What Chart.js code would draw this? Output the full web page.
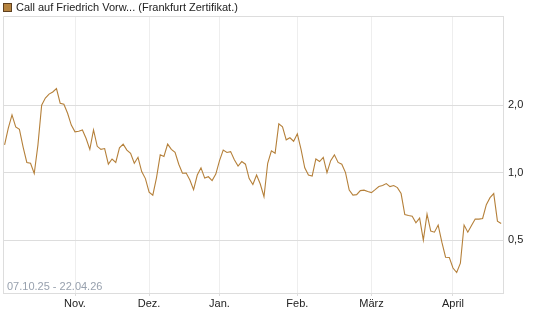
<!DOCTYPE html>
<html>
<head>
<meta charset="utf-8">
<script src="https://cdn.jsdelivr.net/npm/chart.js@4/dist/chart.umd.min.js"></script>
<style>
  html, body { margin: 0; padding: 0; background: #fff; }
  #wrap { position: relative; width: 545px; height: 327px; }
</style>
</head>
<body>
<div id="wrap"><canvas id="c" width="545" height="327"></canvas></div>
<script>
const seriesName = "Call auf Friedrich Vorw... (Frankfurt Zertifikat.)";
const rangeLabel = "07.10.25 - 22.04.26";

const dates = [
  "07.10.25","08.10.25","09.10.25","10.10.25","13.10.25","14.10.25","15.10.25","16.10.25","17.10.25","20.10.25",
  "21.10.25","22.10.25","23.10.25","24.10.25","27.10.25","28.10.25","29.10.25","30.10.25","31.10.25",
  "03.11.25","04.11.25","05.11.25","06.11.25","07.11.25","10.11.25","11.11.25","12.11.25","13.11.25","14.11.25",
  "17.11.25","18.11.25","19.11.25","20.11.25","21.11.25","24.11.25","25.11.25","26.11.25","27.11.25","28.11.25",
  "01.12.25","02.12.25","03.12.25","04.12.25","05.12.25","08.12.25","09.12.25","10.12.25","11.12.25","12.12.25",
  "15.12.25","16.12.25","17.12.25","18.12.25","19.12.25","22.12.25","23.12.25","29.12.25","30.12.25",
  "02.01.26","05.01.26","06.01.26","07.01.26","08.01.26","09.01.26","12.01.26","13.01.26","14.01.26","15.01.26",
  "16.01.26","19.01.26","20.01.26","21.01.26","22.01.26","23.01.26","26.01.26","27.01.26","28.01.26","29.01.26","30.01.26",
  "02.02.26","03.02.26","04.02.26","05.02.26","06.02.26","09.02.26","10.02.26","11.02.26","12.02.26","13.02.26",
  "16.02.26","17.02.26","18.02.26","19.02.26","20.02.26","23.02.26","24.02.26","25.02.26","26.02.26","27.02.26",
  "02.03.26","03.03.26","04.03.26","05.03.26","06.03.26","09.03.26","10.03.26","11.03.26","12.03.26","13.03.26",
  "16.03.26","17.03.26","18.03.26","19.03.26","20.03.26","23.03.26","24.03.26","25.03.26","26.03.26","27.03.26",
  "30.03.26","31.03.26",
  "01.04.26","02.04.26","07.04.26","08.04.26","09.04.26","10.04.26","13.04.26","14.04.26","15.04.26","16.04.26",
  "17.04.26","20.04.26","21.04.26","22.04.26"
];

const values = [
  1.33,1.58,1.81,1.60,1.56,1.30,1.11,1.10,0.99,1.33,
  2.00,2.15,2.24,2.29,2.37,2.04,2.02,1.84,1.63,1.52,
  1.53,1.55,1.42,1.27,1.55,1.31,1.27,1.28,1.09,1.15,
  1.11,1.29,1.34,1.26,1.22,1.10,1.17,1.01,0.940,0.818,
  0.793,0.950,1.20,1.18,1.34,1.27,1.23,1.09,0.993,0.995,
  0.926,0.839,0.975,1.05,0.945,0.958,0.921,0.985,1.13,1.26,
  1.23,1.24,1.14,1.07,1.12,1.09,0.940,0.884,0.975,0.889,
  0.780,1.10,1.25,1.22,1.65,1.60,1.40,1.43,1.38,1.49,
  1.27,1.05,0.975,0.965,1.15,1.12,1.17,1.00,1.13,1.20,
  1.11,1.09,1.00,0.835,0.793,0.797,0.831,0.835,0.823,0.814,
  0.839,0.866,0.875,0.893,0.866,0.875,0.857,0.806,0.649,0.643,
  0.639,0.597,0.626,0.499,0.653,0.548,0.542,0.583,0.489,0.419,
  0.418,0.375,0.358,0.394,0.583,0.542,0.580,0.620,0.620,0.624,
  0.719,0.773,0.806,0.607,0.593
];

const monthLabels = ["Nov.","Dez.","Jan.","Feb.","März","April"];
const yTicks = [0.5, 1.0, 2.0];

// index of first trading day of each new month
const monthStarts = [];
for (let i = 1; i < dates.length; i++) {
  if (dates[i].slice(3,5) !== dates[i-1].slice(3,5)) monthStarts.push(i);
}

const FONT = "'Liberation Sans', Arial, sans-serif";

const framePlugin = {
  id: 'frame',
  beforeDatasetsDraw(chart) {
    const {ctx, chartArea: a} = chart;
    ctx.save();
    ctx.strokeStyle = '#dddddd';
    ctx.lineWidth = 1;
    ctx.beginPath();
    ctx.moveTo(Math.round(a.left) + 0.5, Math.round(a.bottom));
    ctx.lineTo(Math.round(a.left) + 0.5, Math.round(a.top) + 0.5);
    ctx.lineTo(Math.round(a.right), Math.round(a.top) + 0.5);
    ctx.stroke();
    ctx.fillStyle = '#98a1ae';
    ctx.font = '11px ' + FONT;
    ctx.textBaseline = 'alphabetic';
    ctx.fillText(rangeLabel, a.left + 4, a.bottom - 3);
    ctx.restore();
  },
  afterDraw(chart) {
    const ctx = chart.ctx;
    ctx.save();
    ctx.fillStyle = '#b5833f';
    ctx.fillRect(3, 3, 9, 9);
    ctx.strokeStyle = '#5e4020';
    ctx.lineWidth = 1;
    ctx.strokeRect(3.5, 3.5, 8, 8);
    ctx.fillStyle = '#222';
    ctx.font = '11px ' + FONT;
    ctx.textBaseline = 'middle';
    ctx.fillText(seriesName, 16, 8);
    ctx.restore();
  }
};

new Chart(document.getElementById('c'), {
  type: 'line',
  data: {
    datasets: [{
      label: seriesName,
      data: values.map((v, i) => ({x: i, y: v})),
      borderColor: '#b5803a',
      borderWidth: 1.1,
      pointRadius: 0,
      tension: 0,
      fill: false
    }]
  },
  options: {
    responsive: false,
    animation: false,
    devicePixelRatio: 1,
    layout: { padding: { top: 16, left: 3, right: 0, bottom: 0 } },
    plugins: { legend: { display: false }, tooltip: { enabled: false } },
    scales: {
      x: {
        type: 'linear',
        min: -0.43,
        max: 134.5,
        afterBuildTicks: s => { s.ticks = monthStarts.map(i => ({value: i})); },
        afterFit: s => { s.height = 34; },
        ticks: {
          autoSkip: false, maxRotation: 0, padding: 1,
          color: '#222', font: { family: FONT, size: 11 },
          callback: (v, idx) => monthLabels[idx]
        },
        grid: { color: '#eeeeee', tickLength: 3, tickColor: '#dddddd' },
        border: { color: '#dddddd' }
      },
      y: {
        type: 'logarithmic',
        position: 'right',
        min: 0.29,
        max: 5,
        afterBuildTicks: s => { s.ticks = yTicks.map(v => ({value: v})); },
        afterFit: s => { s.width = 42; },
        ticks: {
          padding: 5,
          color: '#222', font: { family: FONT, size: 11 },
          callback: v => Number(v).toFixed(1).replace('.', ',')
        },
        grid: { color: '#dddddd', drawTicks: false },
        border: { color: '#dddddd' }
      }
    }
  },
  plugins: [framePlugin]
});
</script>
</body>
</html>
